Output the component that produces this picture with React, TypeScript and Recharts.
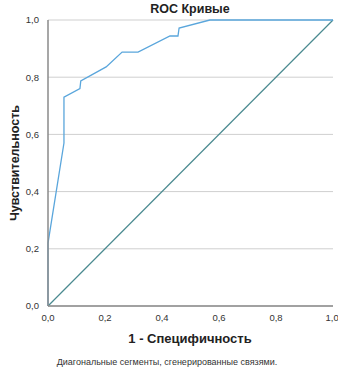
import { ComposedChart, Line, XAxis, YAxis, CartesianGrid } from 'recharts';

// ROC curve points (1 - specificity, sensitivity)
const rocFpr = [0, 0, 0.056, 0.056, 0.112, 0.115, 0.204, 0.26, 0.316, 0.428, 0.456, 0.46, 0.568, 1];
const rocTpr = [0, 0.22, 0.57, 0.73, 0.76, 0.787, 0.836, 0.888, 0.888, 0.944, 0.944, 0.972, 1, 1];
const diagonal = [0, 1];
const ticks = [0, 0.2, 0.4, 0.6, 0.8, 1];

const rocData = rocFpr.map((x, i) => ({ x, y: rocTpr[i] }));
const diagData = diagonal.map((v) => ({ x: v, y: v }));

const fmt = (v: number) => v.toFixed(1).replace('.', ',');

export default function App() {
  const font = '"Liberation Sans", Arial, sans-serif';
  return (
    <div style={{ position: 'absolute', left: 0, top: 0, width: 338, height: 369, background: '#fff', fontFamily: font }}>
      <ComposedChart width={338} height={369} margin={{ top: 20, right: 5, left: 0, bottom: 0 }}>
        <CartesianGrid vertical={false} stroke="#cfcfcf" />
        <XAxis
          type="number"
          dataKey="x"
          domain={[0, 1]}
          ticks={ticks}
          tickFormatter={fmt}
          height={63}
          tickLine={false}
          axisLine={{ stroke: '#8a8a8a', strokeWidth: 1.5 }}
          tick={{ fontSize: 9.5, fill: '#333', fontFamily: font }}
          tickMargin={2}
          allowDuplicatedCategory={false}
        />
        <YAxis
          type="number"
          domain={[0, 1]}
          ticks={ticks}
          tickFormatter={fmt}
          width={48}
          tickLine={false}
          axisLine={{ stroke: '#8a8a8a', strokeWidth: 1.5 }}
          tick={{ fontSize: 9.5, fill: '#333', fontFamily: font }}
          tickMargin={3}
        />
        <Line data={diagData} dataKey="y" type="linear" stroke="#4a8a90" strokeWidth={1.2} dot={false} isAnimationActive={false} />
        <Line data={rocData} dataKey="y" type="linear" stroke="#5aa6dc" strokeWidth={1.3} dot={false} isAnimationActive={false} />
      </ComposedChart>
      <div style={{ position: 'absolute', left: 130, width: 120, top: 2, textAlign: 'center', fontSize: 12.5, fontWeight: 'bold', color: '#222' }}>
        ROC Кривые
      </div>
      <div style={{ position: 'absolute', left: 80, width: 220, top: 331, textAlign: 'center', fontSize: 13, fontWeight: 'bold', color: '#222' }}>
        1 - Специфичность
      </div>
      <div style={{ position: 'absolute', left: 17, width: 300, top: 357, textAlign: 'center', fontSize: 9, color: '#333' }}>
        Диагональные сегменты, сгенерированные связями.
      </div>
      <div style={{ position: 'absolute', left: 15, top: 164, width: 0, height: 0 }}>
        <div style={{ position: 'absolute', left: -80, top: -8, width: 160, textAlign: 'center', transform: 'rotate(-90deg)', fontSize: 12.5, fontWeight: 'bold', color: '#222', whiteSpace: 'nowrap' }}>
          Чувствительность
        </div>
      </div>
    </div>
  );
}
